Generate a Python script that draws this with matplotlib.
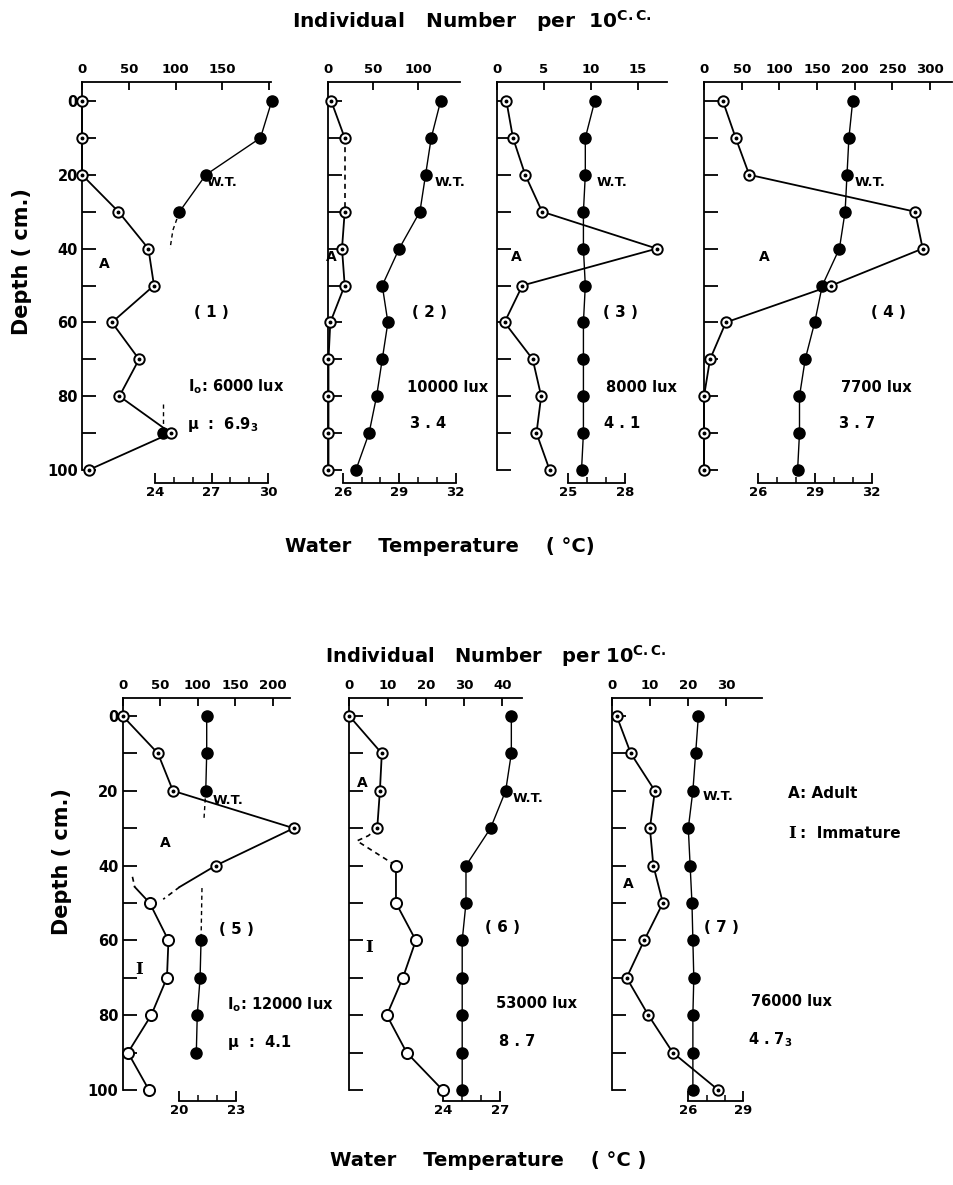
import matplotlib
matplotlib.use("Agg")
import matplotlib.pyplot as plt

W, H = 954, 1185

depth = [0, 10, 20, 30, 40, 50, 60, 70, 80, 90, 100]

# (1) Io 6000 lux
p1_adult = [0, 0, 0, 39, 71, 77, 32, 61, 40, 95, 7]
p1_wt_depth = [0, 10, 20, 30]
p1_wt = [30.2, 29.6, 26.7, 25.3]
p1_wt_dash_depth = [30, 35, 40]
p1_wt_dash = [25.3, 24.95, 24.8]
p1_wt_low_depth = [82, 90]
p1_wt_low = [24.45, 24.45]

# (2) 10000 lux
p2_adult = [3, 18, float("nan"), 18, 15, 18, 2, 0, 0, 0, 0]
p2_gap_depth = [10, 30]
p2_gap = [18, 18]
p2_wt = [31.2, 30.7, 30.4, 30.1, 29.0, 28.1, 28.4, 28.1, 27.8, 27.4, 26.7]

# (3) 8000 lux
p3_adult = [1.0, 1.7, 3.0, 4.8, 17.0, 2.7, 0.8, 3.8, 4.7, 4.2, 5.6]
p3_wt = [26.4, 25.9, 25.9, 25.8, 25.8, 25.9, 25.8, 25.8, 25.8, 25.8, 25.7]

# (4) 7700 lux
p4_adult = [25, 42, 60, 280, 290, 169, 29, 8, 0, 0, 0]
p4_wt = [31.0, 30.8, 30.7, 30.6, 30.3, 29.4, 29.0, 28.5, 28.2, 28.2, 28.1]

# (5) 12000 lux
p5_adult_depth = [0, 10, 20, 30, 40, 45.7]
p5_adult = [0, 47, 67, 228, 124, 76]
p5_adult_dash_depth = [45.7, 49]
p5_adult_dash = [76, 54]
p5_imm_depth = [45.7, 50, 60, 70, 80, 90, 100]
p5_imm = [16, 36, 61, 59, 38, 7, 35]
p5_imm_dash_depth = [43, 45.7]
p5_imm_dash = [13, 16]
p5_wt_top_depth = [0, 10, 20]
p5_wt_top = [21.45, 21.45, 21.4]
p5_wt_dash1_depth = [20, 28]
p5_wt_dash1 = [21.4, 21.3]
p5_wt_dash2_depth = [46, 60]
p5_wt_dash2 = [21.2, 21.15]
p5_wt_low_depth = [60, 70, 80, 90]
p5_wt_low = [21.15, 21.1, 20.95, 20.9]

# (6) 53000 lux
p6_adult_depth = [0, 10, 20, 30]
p6_adult = [0, 8.5, 8.0, 7.3]
p6_dash_depth = [30, 32, 33.4, 40]
p6_dash = [7.3, 5, 2, 12.2]
p6_imm_depth = [40, 50, 60, 70, 80, 90, 100]
p6_imm = [12.2, 12.2, 17.4, 14, 9.8, 15, 24.4]
p6_wt = [27.6, 27.6, 27.3, 26.5, 25.2, 25.2, 25.0, 25.0, 25.0, 25.0, 25.0]

# (7) 76000 lux
p7_adult = [1.3, 5.0, 11.3, 10, 10.9, 13.4, 8.5, 3.9, 9.6, 16, 27.9]
p7_wt = [26.55, 26.4, 26.25, 26.0, 26.1, 26.2, 26.25, 26.3, 26.25, 26.25, 26.25]

# panel geometry in pixels of the 954x1185 picture
TOP = dict(top=82, d0=101, d100=470, tline=483)
BOT = dict(top=698, d0=716, d100=1090, tline=1101)
layouts = [
    dict(TOP, x0=82, xr=271, cs=0.935, cticks=[0, 50, 100, 150, 200],
         clabels=["0", "50", "100", "150", ""], temp=(24, 30), tpx=(155, 268),
         tmaj=[24, 27, 30], tmin=[25, 26, 28, 29], ylab=True),
    dict(TOP, x0=328.5, xr=460, cs=0.9, cticks=[0, 50, 100],
         clabels=["0", "50", "100"], temp=(26, 32), tpx=(342.7, 455.7),
         tmaj=[26, 29, 32], tmin=[27, 28, 30, 31], ylab=False),
    dict(TOP, x0=497, xr=667, cs=9.4, cticks=[0, 5, 10, 15],
         clabels=["0", "5", "10", "15"], temp=(25, 28), tpx=(568.3, 625),
         tmaj=[25, 28], tmin=[26, 27], ylab=False),
    dict(TOP, x0=704, xr=952, cs=0.754, cticks=[0, 50, 100, 150, 200, 250, 300],
         clabels=["0", "50", "100", "150", "200", "250", "300"], temp=(26, 32),
         tpx=(757.7, 871.7), tmaj=[26, 29, 32], tmin=[27, 28, 30, 31], ylab=False),
    dict(BOT, x0=122.7, xr=290, cs=0.75, cticks=[0, 50, 100, 150, 200],
         clabels=["0", "50", "100", "150", "200"], temp=(20, 23), tpx=(179.3, 236),
         tmaj=[20, 23], tmin=[21, 22], ylab=True),
    dict(BOT, x0=349.3, xr=521.7, cs=3.825, cticks=[0, 10, 20, 30, 40],
         clabels=["0", "10", "20", "30", "40"], temp=(24, 27), tpx=(443.3, 500),
         tmaj=[24, 27], tmin=[25, 26], ylab=False),
    dict(BOT, x0=611.7, xr=761.7, cs=3.82, cticks=[0, 10, 20, 30],
         clabels=["0", "10", "20", "30"], temp=(26, 29), tpx=(688.3, 743.3),
         tmaj=[26, 29], tmin=[27, 28], ylab=False),
]

fig = plt.figure(figsize=(W / 100, H / 100), dpi=100)


def make_panel(lay):
    x0, xr, cs = lay["x0"], lay["xr"], lay["cs"]
    top, d0, d100 = lay["top"], lay["d0"], lay["d100"]
    ax = fig.add_axes([x0 / W, 1 - d100 / H, (xr - x0) / W, (d100 - top) / H])
    ax.set_xlim(0, (xr - x0) / cs)
    ax.set_ylim(100, -100 * (d0 - top) / (d100 - d0))

    t_lo, t_hi = lay["temp"]
    px_lo, px_hi = lay["tpx"]
    k = (px_hi - px_lo) / (t_hi - t_lo)
    ax2 = ax.twiny()
    ax2.set_xlim(t_lo - (px_lo - x0) / k, t_lo + (xr - px_lo) / k)

    for s in ["right", "bottom"]:
        ax.spines[s].set_visible(False)
    for s in ["top", "left"]:
        ax.spines[s].set_linewidth(1.3)
    ax.xaxis.set_ticks_position("top")
    ax.set_xticks(lay["cticks"])
    ax.set_xticklabels(lay["clabels"], fontweight="bold")
    ax.tick_params(axis="x", direction="in", length=6, width=1.3, pad=4, labelsize=9.5)
    ax.set_yticks(depth)
    if lay["ylab"]:
        ax.set_yticklabels([str(d) if d % 20 == 0 else "" for d in depth],
                           fontweight="bold")
    else:
        ax.set_yticklabels([])
    ax.tick_params(axis="y", direction="in", length=10, width=1.3, pad=3, labelsize=10.5)

    for s in ["top", "left", "right"]:
        ax2.spines[s].set_visible(False)
    ax2.spines["bottom"].set_visible(True)
    ax2.spines["bottom"].set_linewidth(1.3)
    ax2.spines["bottom"].set_bounds(t_lo, t_hi)
    ax2.spines["bottom"].set_position(("outward", (lay["tline"] - d100) * 0.72))
    ax2.xaxis.set_ticks_position("bottom")
    ax2.set_xticks(lay["tmaj"])
    ax2.set_xticklabels([str(t) for t in lay["tmaj"]], fontweight="bold")
    ax2.set_xticks(lay["tmin"], minor=True)
    ax2.tick_params(axis="x", which="major", direction="in", length=7, width=1.3,
                    pad=2, labelsize=9.5)
    ax2.tick_params(axis="x", which="minor", direction="in", length=4, width=1.1)

    ax.set_zorder(ax2.get_zorder() + 1)
    ax.patch.set_visible(False)
    return ax, ax2


def adult(ax, x, y, ls="-"):
    ax.plot(x, y, ls=ls, color="k", lw=1.3, marker="o", ms=7.5, mfc="white",
            mec="k", mew=1.4, clip_on=False, zorder=3)
    ax.plot(x, y, ls="none", marker="o", ms=1.8, color="k", clip_on=False, zorder=4)


def immature(ax, x, y):
    ax.plot(x, y, "-", color="k", lw=1.3, marker="o", ms=8, mfc="white",
            mec="k", mew=1.4, clip_on=False, zorder=3)


def dashed(ax, x, y, lw=1.2):
    ax.plot(x, y, ls=(0, (3, 2.5)), color="k", lw=lw, clip_on=False, zorder=2)


def wt(ax2, t, d):
    ax2.plot(t, d, "-", color="k", lw=1.0, marker="o", ms=8,
             mfc="k", mec="k", clip_on=False)


axes = [make_panel(l) for l in layouts]

# panel 1
ax, ax2 = axes[0]
adult(ax, p1_adult, depth)
wt(ax2, p1_wt, p1_wt_depth)
dashed(ax2, p1_wt_dash, p1_wt_dash_depth, lw=1.0)
dashed(ax2, p1_wt_low, p1_wt_low_depth, lw=1.0)
ax2.plot(p1_wt_low[-1:], p1_wt_low_depth[-1:], "o", ms=8, color="k", clip_on=False)

# panel 2
ax, ax2 = axes[1]
adult(ax, p2_adult, depth)
dashed(ax, p2_gap, p2_gap_depth)
wt(ax2, p2_wt, depth)

# panel 3
ax, ax2 = axes[2]
adult(ax, p3_adult, depth)
wt(ax2, p3_wt, depth)

# panel 4
ax, ax2 = axes[3]
adult(ax, p4_adult, depth)
wt(ax2, p4_wt, depth)

# panel 5
ax, ax2 = axes[4]
adult(ax, p5_adult[:-1], p5_adult_depth[:-1])
ax.plot(p5_adult[-2:], p5_adult_depth[-2:], "-", color="k", lw=1.3, zorder=2)
dashed(ax, p5_adult_dash, p5_adult_dash_depth)
immature(ax, p5_imm[1:], p5_imm_depth[1:])
ax.plot(p5_imm[:2], p5_imm_depth[:2], "-", color="k", lw=1.3, zorder=2)
dashed(ax, p5_imm_dash, p5_imm_dash_depth)
wt(ax2, p5_wt_top, p5_wt_top_depth)
dashed(ax2, p5_wt_dash1, p5_wt_dash1_depth, lw=1.0)
dashed(ax2, p5_wt_dash2, p5_wt_dash2_depth, lw=1.0)
wt(ax2, p5_wt_low, p5_wt_low_depth)

# panel 6
ax, ax2 = axes[5]
adult(ax, p6_adult, p6_adult_depth)
dashed(ax, p6_dash, p6_dash_depth)
immature(ax, p6_imm, p6_imm_depth)
wt(ax2, p6_wt, depth)

# panel 7
ax, ax2 = axes[6]
adult(ax, p7_adult, depth)
wt(ax2, p7_wt, depth)


def label(x, y, s, size=10.5, ha="center", **kw):
    fig.text(x / W, 1 - y / H, s, ha=ha, va="center", fontsize=size,
             fontweight="bold", **kw)


# titles
label(472, 21, "Individual   Number   per  10$^{\\mathbf{C.C.}}$", size=14.5)
label(440, 547, "Water    Temperature    ( °C)", size=14)
label(496, 656, "Individual   Number   per 10$^{\\mathbf{C.C.}}$", size=14)
label(488, 1161, "Water    Temperature    ( °C )", size=14)
label(22, 262, "Depth ( cm.)", size=15, rotation=90)
label(62, 862, "Depth ( cm.)", size=15, rotation=90)

# panel annotations (top row)
label(221.7, 183, "W.T.", size=9.5)
label(104, 264, "A", size=10)
label(211.7, 312, "( 1 )", size=11)
label(188, 387, "I$_{\\mathbf{o}}$: 6000 lux", ha="left")
label(187, 424, "μ  :  6.9$_{\\mathbf{3}}$", ha="left")

label(331.7, 257, "A", size=10)
label(450, 183, "W.T.", size=9.5)
label(430, 312, "( 2 )", size=11)
label(448, 387, "10000 lux")
label(428, 424, "3 . 4")

label(516.7, 257, "A", size=10)
label(611.7, 183, "W.T.", size=9.5)
label(620, 312, "( 3 )", size=11)
label(641.7, 387, "8000 lux")
label(621.7, 424, "4 . 1")

label(764, 257, "A", size=10)
label(870, 183, "W.T.", size=9.5)
label(888.3, 312, "( 4 )", size=11)
label(876.7, 387, "7700 lux")
label(856.7, 424, "3 . 7")

# panel annotations (bottom row)
label(228.3, 801, "W.T.", size=9.5)
label(165, 843, "A", size=10)
label(139.3, 970, "I", size=12, family="DejaVu Serif")
label(236.7, 930, "( 5 )", size=11)
label(226.7, 1005, "I$_{\\mathbf{o}}$: 12000 lux", ha="left")
label(228.3, 1043, "μ  :  4.1", ha="left")

label(362.7, 783, "A", size=10)
label(369.3, 948, "I", size=12, family="DejaVu Serif")
label(528.3, 799, "W.T.", size=9.5)
label(502.7, 928, "( 6 )", size=11)
label(536.7, 1003, "53000 lux")
label(516.7, 1042, "8 . 7")

label(628.3, 884, "A", size=10)
label(718, 796, "W.T.", size=9.5)
label(721.7, 928, "( 7 )", size=11)
label(791.7, 1002, "76000 lux")
label(770, 1040, "4 . 7$_{\\mathbf{3}}$")

label(788, 794, "A: Adult", ha="left", size=11)
fig.text(788 / W, 1 - 833 / H, "I", ha="left", va="center", fontsize=12,
         fontweight="bold", family="DejaVu Serif")
label(800, 833, ":  Immature", ha="left", size=11)

fig.savefig("out.png", dpi=100)
